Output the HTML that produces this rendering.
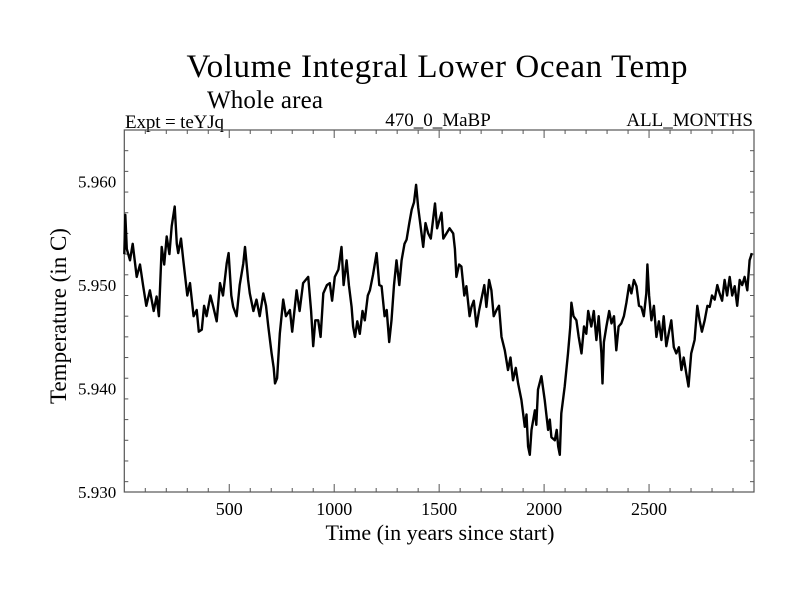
<!DOCTYPE html>
<html><head><meta charset="utf-8"><style>
html,body{margin:0;padding:0;background:#fff;}
svg{display:block;}
text{font-family:"Liberation Serif",serif;fill:#000;}
</style></head><body>
<svg id="chart" width="800" height="600">
<text x="437" y="77" font-size="33" text-anchor="middle" textLength="501">Volume Integral Lower Ocean Temp</text>
<text x="207" y="108" font-size="25" textLength="116">Whole area</text>
<text x="125" y="128" font-size="19" textLength="99">Expt = teYJq</text>
<text x="438" y="126" font-size="19" text-anchor="middle">470_0_MaBP</text>
<text x="753" y="126" font-size="19" text-anchor="end">ALL_MONTHS</text>
<text x="440" y="540" font-size="22" text-anchor="middle">Time (in years since start)</text>
<text transform="translate(66,316) rotate(-90)" font-size="23" text-anchor="middle">Temperature (in C)</text>
<g id="axes"></g>
<g id="series"></g>
</svg>
<script>
const years=[0,5,12,27,40,59,75,90,105,122,140,154,165,178,190,202,215,226,240,250,257,270,281,300,313,330,345,355,369,380,392,410,424,440,456,470,488,497,510,519,535,550,567,575,590,598,615,630,645,662,675,686,702,712,718,728,741,757,770,789,800,821,835,852,876,890,900,910,924,935,948,965,979,990,1003,1020,1035,1045,1059,1070,1083,1090,1099,1110,1122,1135,1146,1160,1170,1185,1202,1215,1226,1240,1250,1262,1273,1285,1297,1310,1321,1335,1345,1358,1369,1380,1390,1400,1408,1424,1435,1448,1460,1480,1490,1511,1520,1535,1550,1567,1575,1582,1595,1606,1620,1630,1645,1654,1665,1678,1690,1701,1715,1725,1738,1749,1760,1773,1785,1797,1813,1828,1840,1852,1865,1876,1892,1908,1916,1924,1932,1940,1956,1963,1971,1987,2003,2019,2027,2035,2051,2060,2067,2075,2082,2098,2114,2125,2130,2140,2154,2165,2178,2190,2201,2210,2225,2237,2249,2260,2273,2278,2285,2297,2310,2321,2333,2344,2355,2368,2380,2392,2405,2416,2428,2440,2452,2463,2475,2487,2492,2500,2511,2523,2535,2547,2559,2570,2582,2595,2606,2618,2630,2642,2654,2665,2678,2688,2701,2717,2730,2741,2752,2765,2778,2789,2800,2813,2825,2836,2848,2860,2872,2884,2896,2908,2920,2932,2944,2955,2968,2979,2990];
const temps=[5.9530,5.9568,5.9535,5.9524,5.9540,5.9508,5.9520,5.9499,5.9480,5.9495,5.9475,5.9489,5.9470,5.9537,5.9520,5.9547,5.9530,5.9557,5.9576,5.9540,5.9531,5.9545,5.9524,5.9490,5.9502,5.9470,5.9476,5.9455,5.9457,5.9480,5.9470,5.9490,5.9479,5.9465,5.9502,5.9490,5.9521,5.9531,5.9490,5.9479,5.9470,5.9500,5.9521,5.9537,5.9505,5.9492,5.9475,5.9486,5.9470,5.9492,5.9480,5.9460,5.9434,5.9420,5.9405,5.9410,5.9453,5.9486,5.9470,5.9476,5.9455,5.9495,5.9475,5.9502,5.9508,5.9475,5.9441,5.9466,5.9466,5.9450,5.9492,5.9500,5.9502,5.9485,5.9508,5.9515,5.9537,5.9500,5.9524,5.9500,5.9479,5.9460,5.9450,5.9465,5.9453,5.9475,5.9466,5.9490,5.9495,5.9510,5.9531,5.9500,5.9499,5.9470,5.9476,5.9445,5.9466,5.9500,5.9524,5.9500,5.9524,5.9540,5.9544,5.9560,5.9573,5.9580,5.9597,5.9575,5.9563,5.9537,5.9560,5.9550,5.9545,5.9579,5.9555,5.9570,5.9545,5.9550,5.9555,5.9550,5.9535,5.9508,5.9520,5.9518,5.9490,5.9499,5.9470,5.9479,5.9485,5.9460,5.9475,5.9486,5.9500,5.9479,5.9505,5.9495,5.9470,5.9476,5.9480,5.9450,5.9437,5.9418,5.9430,5.9408,5.9420,5.9405,5.9389,5.9363,5.9375,5.9344,5.9336,5.9360,5.9379,5.9365,5.9399,5.9412,5.9389,5.9360,5.9370,5.9353,5.9350,5.9360,5.9344,5.9336,5.9376,5.9402,5.9434,5.9460,5.9483,5.9470,5.9466,5.9450,5.9434,5.9460,5.9453,5.9475,5.9460,5.9475,5.9447,5.9470,5.9434,5.9405,5.9445,5.9460,5.9475,5.9463,5.9470,5.9437,5.9460,5.9463,5.9470,5.9483,5.9500,5.9492,5.9505,5.9499,5.9480,5.9479,5.9470,5.9492,5.9520,5.9490,5.9466,5.9480,5.9450,5.9465,5.9447,5.9470,5.9441,5.9455,5.9466,5.9440,5.9434,5.9440,5.9418,5.9430,5.9414,5.9402,5.9434,5.9447,5.9480,5.9466,5.9455,5.9466,5.9480,5.9479,5.9490,5.9486,5.9500,5.9492,5.9485,5.9505,5.9490,5.9508,5.9490,5.9499,5.9480,5.9505,5.9500,5.9508,5.9495,5.9524,5.9531];
const xTickValues=[500,1000,1500,2000,2500];
const xTickLabels=["500","1000","1500","2000","2500"];
const yTickValues=[5.930,5.940,5.950,5.960];
const yTickLabels=["5.930","5.940","5.950","5.960"];

const L=124.3,R=754,T=130,B=492;
const X0=0,X1=3000,Y0=5.930,Y1=5.965;
const sx=v=>L+(v-X0)/(X1-X0)*(R-L);
const sy=v=>B-(v-Y0)/(Y1-Y0)*(B-T);
const NS="http://www.w3.org/2000/svg";
const axes=document.getElementById('axes');
const series=document.getElementById('series');
function mk(tag,attrs,parent){const e=document.createElementNS(NS,tag);for(const k in attrs)e.setAttribute(k,attrs[k]);parent.appendChild(e);return e;}

const frame=mk('rect',{x:L,y:T,width:R-L,height:B-T,fill:'none',stroke:'#555','stroke-width':1.2},axes);



for(let v=100;v<3000;v+=100){
  const major=v%500===0, len=major?8:4, x=sx(v);
  const t1=mk('line',{x1:x,y1:B,x2:x,y2:B-len,stroke:'#555','stroke-width':1},axes);
  
  
  const t2=mk('line',{x1:x,y1:T,x2:x,y2:T+len,stroke:'#555','stroke-width':1},axes);
  
  
}
for(let i=1;i<Y1*1000-Y0*1000;i+=2){
  const v=Y0+i/1000, major=i%10===0, len=major?8:4, y=sy(v);
  if(y<=T+0.5)continue;
  const t1=mk('line',{x1:L,y1:y,x2:L+len,y2:y,stroke:'#555','stroke-width':1},axes);
  
  
  const t2=mk('line',{x1:R,y1:y,x2:R-len,y2:y,stroke:'#555','stroke-width':1},axes);
  
  
}
xTickValues.forEach((v,i)=>{
  const t=mk('text',{x:sx(v),y:B+23,'font-size':18,'text-anchor':'middle'},axes);
  t.textContent=xTickLabels[i];
  
  
});
yTickValues.forEach((v,i)=>{
  const t=mk('text',{x:L-8,y:sy(v)+6,'font-size':17,'text-anchor':'end'},axes);
  t.textContent=yTickLabels[i];
  
  
});
const d=years.map((yr,i)=>(i?'L':'M')+sx(yr).toFixed(1)+','+sy(temps[i]).toFixed(1)).join('');
const line=mk('path',{d:d,fill:'none',stroke:'#000','stroke-width':2.4,'stroke-linejoin':'round'},series);


</script>
</body></html>
